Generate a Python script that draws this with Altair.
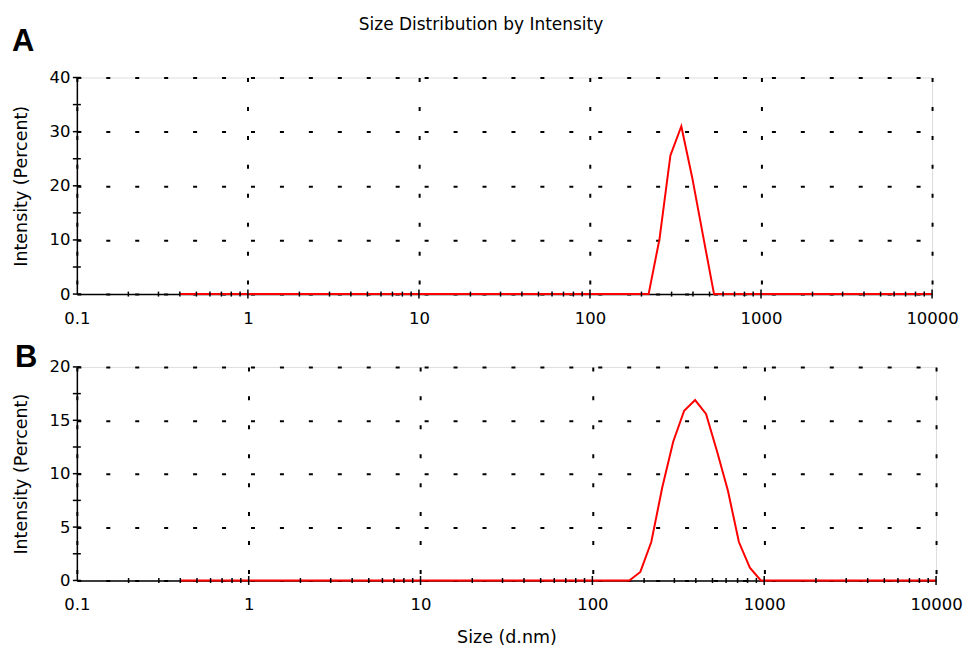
import altair as alt
import pandas as pd

# ---- data ----
sizes_a = [0.4, 220.2, 255.0, 295.3, 342.0, 396.1, 458.7, 531.2, 10000]
intensity_a = [0, 0, 10.2, 25.6, 31.0, 21.5, 10.7, 0, 0]

sizes_b = [0.4, 164.2, 190.1, 220.2, 255.0, 295.3, 342.0, 396.1, 458.7,
           531.2, 615.1, 712.4, 825.0, 955.4, 10000]
intensity_b = [0, 0, 0.8, 3.6, 8.7, 13.0, 15.9, 16.9, 15.6, 12.1, 8.4, 3.6, 1.2, 0, 0]

x_labels = [0.1, 1, 10, 100, 1000, 10000]
y_labels_a = [0, 10, 20, 30, 40]
y_labels_b = [0, 5, 10, 15, 20]
y_minor_a = [0, 5, 10, 15, 20, 25, 30, 35, 40]
y_minor_b = [0, 2.5, 5, 7.5, 10, 12.5, 15, 17.5, 20]
x_minor = [m * 10.0 ** e for e in range(-1, 4) for m in range(2, 10)]
x_major = [1, 10, 100, 1000, 10000]

main_title = ["Size Distribution by Intensity"]
FONT = "DejaVu Sans"


def panel(sizes, vals, ymax, ylabels, yminor, w, h, letter, lx, ly,
          xtitle, with_title):
    xscale = alt.Scale(type="log", domain=[0.1, 10000], nice=False)
    yscale = alt.Scale(domain=[0, ymax], nice=False)
    xaxis = alt.Axis(values=x_labels, format="~g", grid=True, gridColor="black",
                     gridWidth=2, gridDash=[4, 25], ticks=False,
                     domainColor="black", domainWidth=1.5,
                     labelFont=FONT, labelFontSize=16.5, labelColor="black",
                     labelPadding=16, labelFlush=False, labelOverlap=False,
                     title=xtitle, titleFont=FONT, titleFontSize=17.5,
                     titleFontWeight="normal", titleColor="black",
                     titleY=57, titleBaseline="middle")
    yaxis = alt.Axis(values=ylabels, grid=True, gridColor="black", gridWidth=2,
                     gridDash=[4, 25], ticks=False, domainColor="black",
                     domainWidth=1.5, labelFont=FONT, labelFontSize=16.5,
                     labelColor="black", labelPadding=7, labelFlush=False,
                     title="Intensity (Percent)", titleFont=FONT,
                     titleFontSize=17.5, titleFontWeight="normal",
                     titleColor="black", titleX=-55, titleBaseline="middle")
    df = pd.DataFrame({"size": sizes, "intensity": vals})
    line = alt.Chart(df).mark_line(color="#ff0000", strokeWidth=2).encode(
        x=alt.X("size:Q", scale=xscale, axis=xaxis),
        y=alt.Y("intensity:Q", scale=yscale, axis=yaxis),
    )
    dfx = pd.DataFrame({"size": x_minor, "intensity": [0] * len(x_minor)})
    xt = alt.Chart(dfx).mark_tick(orient="vertical", size=5, thickness=1.5,
                                  color="black", opacity=1).encode(
        x="size:Q", y="intensity:Q")
    dfxm = pd.DataFrame({"size": x_major, "intensity": [0] * len(x_major)})
    xtm = alt.Chart(dfxm).mark_tick(orient="vertical", size=9, thickness=1.5,
                                    color="black", opacity=1).encode(
        x="size:Q", y="intensity:Q")
    dfy = pd.DataFrame({"size": [0.1] * len(yminor), "intensity": yminor})
    yt = alt.Chart(dfy).mark_tick(orient="horizontal", size=8, thickness=1.5,
                                  color="black", opacity=1).encode(
        x="size:Q", y="intensity:Q")
    lab = alt.Chart(pd.DataFrame({"label": [letter]})).mark_text(
        font="Liberation Sans", fontWeight="bold", fontSize=31, align="left",
        baseline="alphabetic", color="black").encode(
        x=alt.value(lx), y=alt.value(ly), text="label:N")
    layers = [line, xt, xtm, yt, lab]
    if with_title:
        tt = alt.Chart(pd.DataFrame({"t": main_title})).mark_text(
            font=FONT, fontSize=17, align="center", baseline="middle",
            color="black").encode(x=alt.value(405), y=alt.value(-53), text="t:N")
        layers.append(tt)
    return alt.layer(*layers).properties(width=w, height=h)


pa = panel(sizes_a, intensity_a, 40, y_labels_a, y_minor_a, 857, 217,
           "A", -65, -27, "", True)
pb = panel(sizes_b, intensity_b, 20, y_labels_b, y_minor_b, 861, 214,
           "B", -62, 0, "Size (d.nm)", False)

chart = alt.vconcat(pa, pb, spacing=14).properties(
    padding={"left": 3, "top": 6, "right": 0, "bottom": 0}
).configure_view(stroke=None).configure(background="white")

chart.save("out.html", embed_options={"renderer": "svg", "actions": False})
